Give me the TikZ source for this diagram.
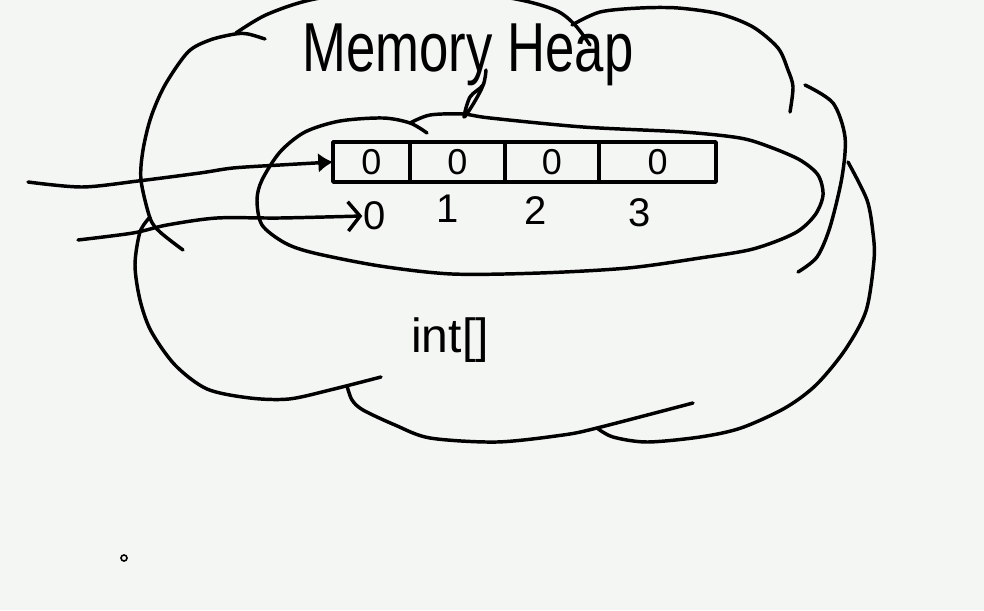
\documentclass[tikz,border=0pt]{standalone}
\usepackage{fontspec}
\usepackage{graphicx}
\setmainfont{Liberation Sans}
\usetikzlibrary{positioning,arrows.meta}
\definecolor{paper}{HTML}{F4F6F3}
\tikzset{
    ink/.style={line width=2.6pt, line cap=round, line join=round},
    cell/.style={draw, ink, minimum height=30pt, inner sep=0pt, outer sep=0pt, font=\fontsize{27}{27}\selectfont},
    idx/.style={font=\fontsize{30}{30}\selectfont, inner sep=1pt},
    ptr/.style={ink, -{Latex[length=11pt,width=15pt]}},
}
\begin{document}
\begin{tikzpicture}[x=0.75pt, y=-0.75pt]
    \fill[paper] (0,0) rectangle (984,610);
    \useasboundingbox (0,0) rectangle (984,610);
    % heap cloud
    \draw[ink] plot[smooth] coordinates {(236,33) (268,14) (320,-2) (420,-12) (510,-2) (555,10) (575,25) (590,45)};
    \draw[ink] plot[smooth] coordinates {(265,39) (248,34) (235,34) (210,40) (188,52) (165,85) (151,117) (143,150) (141,180) (150,218) (160,232) (183,250)};
    \draw[ink] plot[smooth] coordinates {(150,217) (140,232) (135,265) (140,300) (151,331) (175,365) (207,389) (250,398) (289,399) (330,390) (381,377)};
    \draw[ink] plot[smooth] coordinates {(347,386) (352,400) (363,410) (395,425) (430,438) (497,442) (563,435) (597,428) (693,403)};
    \draw[ink] plot[smooth] coordinates {(597,428) (613,437) (647,442) (700,437) (741,428) (785,408) (816,385) (845,350) (866,311) (874,260) (873,233) (867,200) (848,162)};
    \draw[ink] plot[smooth] coordinates {(805,85) (833,103) (845,137) (842,177) (830,227) (817,257) (798,272)};
    \draw[ink] plot[smooth] coordinates {(572,25) (600,12) (640,8) (678,8) (720,14) (753,27) (778,48) (788,70) (793,87) (790,112)};
    % array object
    \draw[ink] plot[smooth] coordinates {(427,133) (410,123) (383,118) (340,121) (305,132) (280,152) (262,180) (257,200) (262,225) (285,243) (314,253) (380,266) (452,274) (540,273) (628,268) (700,258) (753,249) (795,233) (815,215) (823,195) (818,175) (800,160) (770,147) (740,138) (683,132) (583,127) (490,118) (463,114) (430,115) (410,123)};
    \draw[ink] plot[smooth] coordinates {(486,70) (483,85) (470,97) (464,117) (472,106) (480,92) (484,83)};
    \node[anchor=base, inner sep=0pt] (title) at (468,72) {\scalebox{0.76}[1]{\fontsize{52}{52}\selectfont Memory Heap}};
    \node[cell, minimum width=57.75pt] (c0) at (371.5,162) {0};
    \node[cell, minimum width=71.25pt, right=0pt of c0] (c1) {0};
    \node[cell, minimum width=70.5pt, right=0pt of c1] (c2) {0};
    \node[cell, minimum width=87.75pt, right=0pt of c2] (c3) {0};
    \foreach \i/\x/\y in {0/375/216,1/448/209,2/536/211,3/640/213}
        \node[idx] (idx\i) at (\x,\y) {\i};
    \node[font=\fontsize{36}{36}\selectfont] (type) at (450,340) {int[]};
    % references
    \coordinate (src1) at (28,182);
    \coordinate (src2) at (78,240);
    \draw[ptr] plot[smooth] coordinates {(src1) (82,187) (138,181) (200,173) (233,168) (280,165) (c0.west)};
    \draw[ink, -{Straight Barb[length=9pt,width=22pt]}] plot[smooth] coordinates {(src2) (133,233) (167,225) (217,218) (280,218) (idx0.west)};
    \draw[line width=1.2pt] (124,558) circle (3);
\end{tikzpicture}
\end{document}
